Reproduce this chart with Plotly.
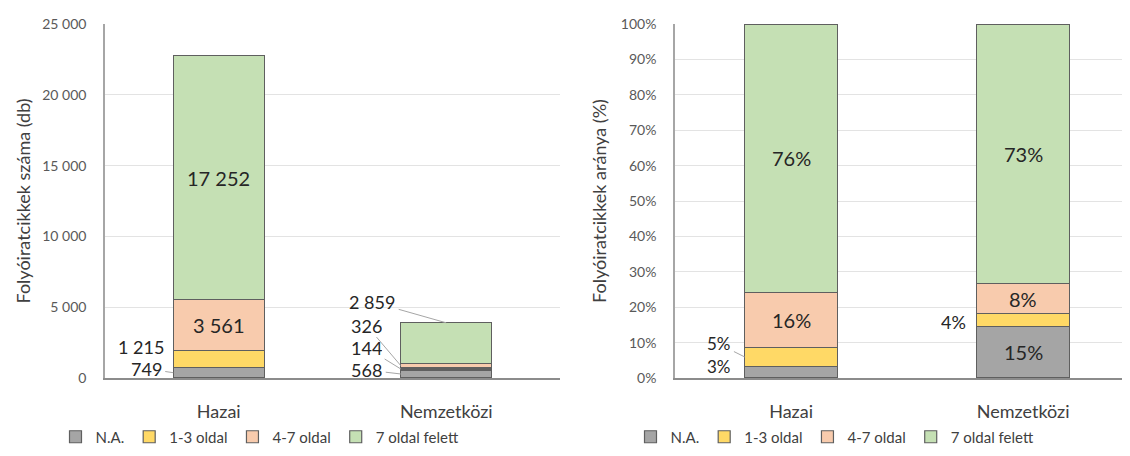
import plotly.graph_objects as go

# ---------------- data ----------------
categories = ["Hazai", "Nemzetközi"]
series_names = ["N.A.", "1-3 oldal", "4-7 oldal", "7 oldal felett"]
na_counts = [749, 568]
p13_counts = [1215, 144]
p47_counts = [3561, 326]
p7plus_counts = [17252, 2859]
count_ticks = [0, 5000, 10000, 15000, 20000, 25000]
share_ticks = [0, 0.1, 0.2, 0.3, 0.4, 0.5, 0.6, 0.7, 0.8, 0.9, 1.0]

series_counts = [na_counts, p13_counts, p47_counts, p7plus_counts]
totals = [sum(s[i] for s in series_counts) for i in range(len(categories))]
series_shares = [[s[i] / totals[i] for i in range(len(categories))] for s in series_counts]

# ---------------- style ----------------
colors = ["#a5a5a5", "#ffd966", "#f8cbad", "#c5e0b4"]
edge = "#5f5f5f"
FONT = "Lato"
label_color = "#262626"
tick_color = "#595959"
OFF = 8                      # page body margin of the browser
W, H = 1130 - OFF, 456 - OFF  # visible area

def px_x(p):
    return (p - OFF) / W

def px_y(p):
    return 1 - (p - OFF) / H

xdom1 = [px_x(105), px_x(560)]
xdom2 = [px_x(675), 1.0]
ydom = [px_y(378), px_y(24)]

fig = go.Figure()
xpos = list(range(len(categories)))
for k, name in enumerate(series_names):
    fig.add_trace(go.Bar(
        x=xpos, y=series_counts[k], name=name, width=0.4,
        marker=dict(color=colors[k], line=dict(color=edge, width=1.2)),
        xaxis="x", yaxis="y", legend="legend", hoverinfo="skip"))
for k, name in enumerate(series_names):
    fig.add_trace(go.Bar(
        x=xpos, y=series_shares[k], name=name, width=0.4,
        marker=dict(color=colors[k], line=dict(color=edge, width=1.2)),
        xaxis="x2", yaxis="y2", legend="legend2", hoverinfo="skip"))

def fmt_count(v):
    return f"{v:,}".replace(",", " ")

def fmt_share(v):
    return f"{round(v * 100)}%"

def seg_mid(series_list, k, i):
    below = sum(series_list[j][i] for j in range(k))
    return below + series_list[k][i] / 2

ann = []
lab_font = dict(family=FONT, size=20, color=label_color)
out_font = dict(family=FONT, size=18, color=label_color)
small_font = dict(family=FONT, size=17, color=label_color)

def inside(xref, yref, i, y, text):
    ann.append(dict(xref=xref, yref=yref, x=i, y=y, text=text, showarrow=False,
                    font=lab_font, xanchor="center", yanchor="middle"))

def outside_plain(xref, yref, i, y, text, xshift, yshift, font=out_font):
    ann.append(dict(xref=xref, yref=yref, x=i - 0.2, y=y, text=text, showarrow=False,
                    font=font, xanchor="right", yanchor="middle",
                    xshift=xshift, yshift=yshift, height=17))

def outside_leader(xref, yref, x, y, text, ax, ay, font=out_font):
    ann.append(dict(xref=xref, yref=yref, x=x, y=y, text=text, showarrow=True,
                    arrowhead=0, arrowwidth=1, arrowcolor="#a6a6a6",
                    ax=ax, ay=ay, font=font, standoff=0, startstandoff=2, height=17))

# left chart labels
inside("x", "y", 0, seg_mid(series_counts, 3, 0), fmt_count(p7plus_counts[0]))
inside("x", "y", 0, seg_mid(series_counts, 2, 0), fmt_count(p47_counts[0]))
outside_plain("x", "y", 0, seg_mid(series_counts, 1, 0), fmt_count(p13_counts[0]), -7, 12)
outside_leader("x", "y", -0.2, seg_mid(series_counts, 0, 0), fmt_count(na_counts[0]), -27, -4)
outside_leader("x", "y", 1, totals[1], fmt_count(p7plus_counts[1]), -74, -21)
outside_leader("x", "y", 0.8, seg_mid(series_counts, 2, 1), fmt_count(p47_counts[1]), -34, -40)
outside_leader("x", "y", 0.8, seg_mid(series_counts, 1, 1), fmt_count(p13_counts[1]), -34, -21)
outside_leader("x", "y", 0.8, seg_mid(series_counts, 0, 1), fmt_count(na_counts[1]), -34, -4)

# right chart labels
inside("x2", "y2", 0, seg_mid(series_shares, 3, 0), fmt_share(series_shares[3][0]))
inside("x2", "y2", 0, seg_mid(series_shares, 2, 0), fmt_share(series_shares[2][0]))
outside_leader("x2", "y2", -0.2, seg_mid(series_shares, 1, 0), fmt_share(series_shares[1][0]),
               -26, -13, small_font)
outside_plain("x2", "y2", 0, seg_mid(series_shares, 0, 0), fmt_share(series_shares[0][0]),
              -12, 6, small_font)
inside("x2", "y2", 1, seg_mid(series_shares, 3, 1), fmt_share(series_shares[3][1]))
inside("x2", "y2", 1, seg_mid(series_shares, 2, 1), fmt_share(series_shares[2][1]))
outside_plain("x2", "y2", 1, seg_mid(series_shares, 1, 1), fmt_share(series_shares[1][1]), -9, -2)
inside("x2", "y2", 1, seg_mid(series_shares, 0, 1), fmt_share(series_shares[0][1]))

xaxis_common = dict(
    tickmode="array", tickvals=xpos, ticktext=categories,
    showgrid=False, zeroline=False, showline=True, linecolor="#8c8c8c", linewidth=1.5,
    ticks="", tickfont=dict(family=FONT, size=18, color="#404040"),
    ticklabelstandoff=17, fixedrange=True, automargin=False)
yaxis_common = dict(
    showgrid=True, gridcolor="#e3e3e3", gridwidth=1.2, zeroline=False,
    showline=True, linecolor="#a6a6a6", linewidth=1.5, ticks="",
    tickfont=dict(family=FONT, size=14, color=tick_color),
    ticklabelstandoff=14, fixedrange=True, automargin=False)

fig.update_layout(
    width=W, height=H,
    margin=dict(l=0, r=0, t=0, b=0, autoexpand=False),
    paper_bgcolor="white", plot_bgcolor="white",
    barmode="stack",
    separators=", ",
    font=dict(family=FONT, color="#404040"),
    xaxis=dict(domain=xdom1, range=[-0.5, 1.5], anchor="y", **xaxis_common),
    xaxis2=dict(domain=xdom2, range=[-0.5, 1.46], anchor="y2", **xaxis_common),
    yaxis=dict(domain=ydom, range=[0, 25000], anchor="x", tickmode="array",
               tickvals=count_ticks, tickformat=",d",
               title=dict(text="Folyóiratcikkek száma (db)",
                          font=dict(family=FONT, size=18, color="#404040"), standoff=7),
               **yaxis_common),
    yaxis2=dict(domain=ydom, range=[0, 1], anchor="x2", tickmode="array",
                tickvals=share_ticks, tickformat=".0%",
                title=dict(text="Folyóiratcikkek aránya (%)",
                           font=dict(family=FONT, size=18, color="#404040"), standoff=10),
                **yaxis_common),
    legend=dict(orientation="h", x=px_x(260), xanchor="center", y=px_y(437), yanchor="middle",
                font=dict(family=FONT, size=15, color="#404040"), itemwidth=30,
                traceorder="normal", bgcolor="rgba(0,0,0,0)"),
    legend2=dict(orientation="h", x=px_x(835), xanchor="center", y=px_y(437), yanchor="middle",
                 font=dict(family=FONT, size=15, color="#404040"), itemwidth=30,
                 traceorder="normal", bgcolor="rgba(0,0,0,0)"),
    annotations=ann,
    showlegend=True,
)

fig.write_html("out.html")
